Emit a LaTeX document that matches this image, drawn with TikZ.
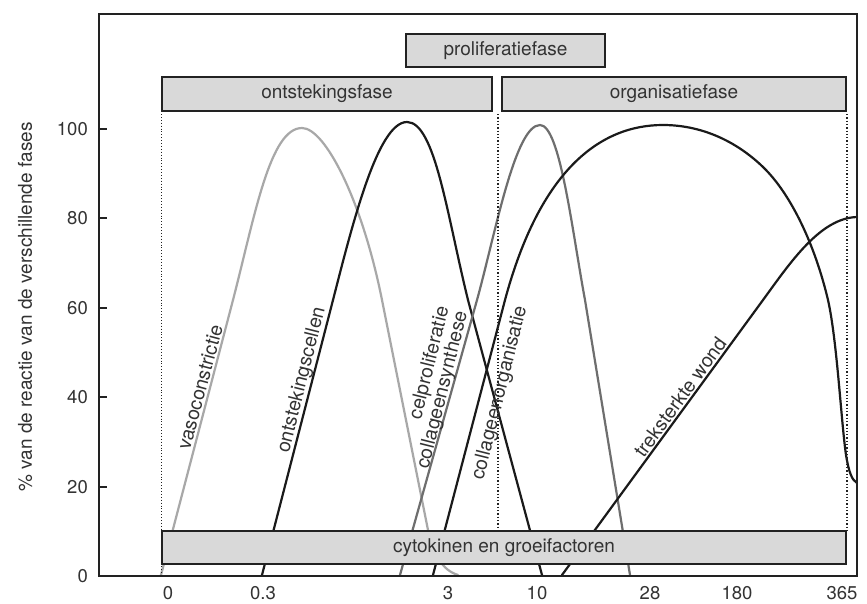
\documentclass[tikz,border=0pt]{standalone}
\usepackage{fontspec}
\setmainfont{TeX Gyre Heros}
\definecolor{txt}{HTML}{333333}
\definecolor{boxfill}{HTML}{D9D9D9}
\definecolor{framecol}{HTML}{222222}
\definecolor{lgray}{HTML}{A8A8A8}
\definecolor{mgray}{HTML}{6E6E6E}
\definecolor{cblack}{HTML}{1A1A1A}
\begin{document}
\begin{tikzpicture}[x=1pt,y=-1pt,
  phasebox/.style={draw=framecol, line width=2pt, fill=boxfill, inner sep=0pt, text=txt, font=\fontsize{19}{22}\selectfont},
  ticklbl/.style={text=txt, font=\fontsize{18.5}{22}\selectfont, inner sep=0pt},
  axlbl/.style={text=txt, font=\fontsize{19}{22}\selectfont, inner sep=0pt},
  curvelbl/.style={text=txt, font=\fontsize{19.5}{23}\selectfont, inner sep=0pt},
  curve/.style={line width=2.2pt, line cap=round, line join=round},
  sepline/.style={dotted, line width=1.3pt, draw=framecol}
]
\useasboundingbox (0,0) rectangle (867,603);
\fill[white] (0,0) rectangle (867,603);

% vasoconstrictie
\draw[curve, draw=lgray] (161,575) -- (233,300)
  .. controls (255,215) and (270,128) .. (302,128)
  .. controls (325,128) and (362,200) .. (382,300)
  -- (428,530) .. controls (434,555) and (442,570) .. (458,575);
% ontstekingscellen
\draw[curve, draw=cblack] (262,575) -- (333,300)
  .. controls (353,222) and (378,122) .. (407,122)
  .. controls (435,122) and (447,215) .. (468,300)
  -- (542,575);
% celproliferatie / collageensynthese
\draw[curve, draw=mgray] (400,575) -- (477,300)
  .. controls (495,235) and (515,125) .. (540,125)
  .. controls (560,125) and (572,230) .. (585,300)
  -- (630,575);
% collageenorganisatie
\draw[curve, draw=cblack] (433,575) -- (505,300)
  .. controls (540,170) and (600,125) .. (663,125)
  .. controls (700,125) and (735,140) .. (763,167)
  .. controls (791,194) and (815,245) .. (828,300)
  .. controls (837,340) and (841,420) .. (846,455)
  .. controls (849,473) and (852,480) .. (857,483);
% treksterkte wond
\draw[curve, draw=cblack] (562,575) -- (763,300)
  .. controls (790,263) and (820,218) .. (857,217);

% curve labels
\node[curvelbl, rotate=75] (lvaso) at (200,387) {vasoconstrictie};
\node[curvelbl, rotate=76] (lont) at (302,380) {ontstekingscellen};
\node[curvelbl, rotate=76] (lcel) at (430,363) {celproliferatie};
\node[curvelbl, rotate=76] (lcoll) at (443,390) {collageensynthese};
\node[curvelbl, rotate=76] (lorg) at (500,393) {collageenorganisatie};
\node[curvelbl, rotate=54] (ltrek) at (680,397) {treksterkte wond};

% dotted separators
\draw[sepline, line width=0.9pt] (161,114) -- (161,576);
\draw[sepline] (498,114) -- (498,530);
\draw[sepline] (847,114) -- (847,530);

% phase boxes
\node[phasebox, minimum width=199pt, minimum height=33pt] (prolif) at (505.5,50.5) {proliferatiefase};
\node[phasebox, minimum width=330pt, minimum height=34pt] (ontst) at (327,94) {ontstekingsfase};
\node[phasebox, minimum width=344pt, minimum height=34pt] (organ) at (674,94) {organisatiefase};
\node[phasebox, minimum width=684pt, minimum height=33pt] (cyto) at (504,547.5) {cytokinen en groeifactoren};

% frame
\draw[framecol, line width=2.4pt] (99,14) rectangle (857,576);

% y ticks
\foreach \v in {0,20,40,60,80,100}{
  \draw[framecol, line width=2pt] (99,{576-4.47*\v}) -- (107,{576-4.47*\v});
  \node[ticklbl, anchor=east] (yt\v) at (88,{576-4.47*\v}) {\v};
}
% x labels
\node[ticklbl, anchor=base] (x0) at (168,599) {0};
\node[ticklbl, anchor=base] (x1) at (263,599) {0.3};
\node[ticklbl, anchor=base] (x2) at (448,599) {3};
\node[ticklbl, anchor=base] (x3) at (537,599) {10};
\node[ticklbl, anchor=base] (x4) at (650,599) {28};
\node[ticklbl, anchor=base] (x5) at (737,599) {180};
\node[ticklbl, anchor=base] (x6) at (842,599) {365};

% y axis label
\node[axlbl, rotate=90] (ylab) at (25,307) {\% van de reactie van de verschillende fases};
\end{tikzpicture}
\end{document}
